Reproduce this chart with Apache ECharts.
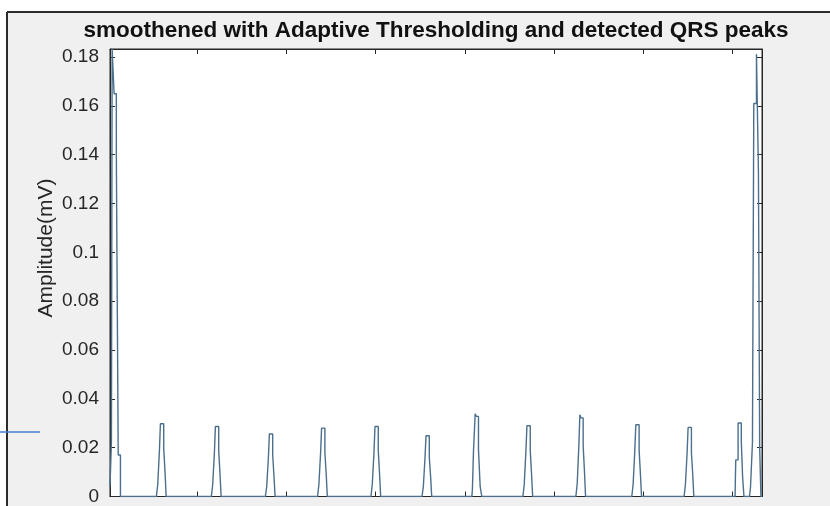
<!DOCTYPE html>
<html>
<head>
<meta charset="utf-8">
<script src="https://cdn.jsdelivr.net/npm/echarts@6/dist/echarts.min.js"></script>
<style>
html,body{margin:0;padding:0;background:#ffffff;}
#chart{width:830px;height:506px;}
</style>
</head>
<body>
<div id="chart"></div>
<script>
// ---- data (sample index, amplitude in mV) ----
var titleText = 'smoothened with Adaptive Thresholding and detected QRS peaks';
var yAxisTitle = 'Amplitude(mV)';
var xRange = [24, 7330];
var yRange = [0, 0.1833];
var xTickValues = [1000, 2000, 3000, 4000, 5000, 6000, 7000];
var yTickStep = 0.02;

var peak01 = [[24,0.004],[40,0.004],[40,0.0226],[48,0.0226],[48,0.1833],[70,0.1833],[70,0.165],[95,0.165],[95,0.14],[116,0.14],[116,0.017],[141,0.017],[141,0]];
var peak02 = [[544,0],[559,0],[559,0.005],[578,0.005],[578,0.019],[589,0.019],[589,0.0298],[626,0.0298],[626,0.0196],[641,0.0196],[641,0.0098],[653,0.0098],[653,0]];
var peak03 = [[1160,0],[1175,0],[1175,0.005],[1194,0.005],[1194,0.018],[1205,0.018],[1205,0.0287],[1242,0.0287],[1242,0.019],[1257,0.019],[1257,0.009],[1269,0.009],[1269,0]];
var peak04 = [[1765,0],[1780,0],[1780,0.004],[1799,0.004],[1799,0.016],[1810,0.016],[1810,0.0256],[1847,0.0256],[1847,0.017],[1862,0.017],[1862,0.008],[1874,0.008],[1874,0]];
var peak05 = [[2350,0],[2365,0],[2365,0.005],[2384,0.005],[2384,0.018],[2395,0.018],[2395,0.028],[2432,0.028],[2432,0.018],[2447,0.018],[2447,0.009],[2459,0.009],[2459,0]];
var peak06 = [[2948,0],[2963,0],[2963,0.005],[2982,0.005],[2982,0.018],[2993,0.018],[2993,0.0287],[3030,0.0287],[3030,0.019],[3045,0.019],[3045,0.009],[3057,0.009],[3057,0]];
var peak07 = [[3520,0],[3535,0],[3535,0.004],[3554,0.004],[3554,0.016],[3565,0.016],[3565,0.0249],[3602,0.0249],[3602,0.016],[3617,0.016],[3617,0.008],[3629,0.008],[3629,0]];
var peak08 = [[4079,0],[4085,0],[4085,0.003],[4097,0.003],[4097,0.0185],[4116,0.0185],[4116,0.0339],[4130,0.0339],[4130,0.0328],[4153,0.0328],[4153,0.0193],[4172,0.0193],[4172,0.004],[4190,0.004],[4190,0]];
var peak09 = [[4651,0],[4666,0],[4666,0.005],[4685,0.005],[4685,0.019],[4696,0.019],[4696,0.029],[4733,0.029],[4733,0.019],[4748,0.019],[4748,0.009],[4760,0.009],[4760,0]];
var peak10 = [[5244,0],[5259,0],[5259,0.005],[5278,0.005],[5278,0.021],[5289,0.021],[5289,0.0335],[5303,0.0335],[5303,0.0322],[5326,0.0322],[5326,0.021],[5341,0.021],[5341,0.01],[5353,0.01],[5353,0]];
var peak11 = [[5871,0],[5886,0],[5886,0.005],[5905,0.005],[5905,0.019],[5916,0.019],[5916,0.0294],[5953,0.0294],[5953,0.019],[5968,0.019],[5968,0.009],[5980,0.009],[5980,0]];
var peak12 = [[6457,0],[6472,0],[6472,0.005],[6491,0.005],[6491,0.018],[6502,0.018],[6502,0.0283],[6539,0.0283],[6539,0.018],[6554,0.018],[6554,0.009],[6566,0.009],[6566,0]];
var peak13 = [[7028,0],[7036,0],[7036,0.015],[7062,0.015],[7062,0.0301],[7098,0.0301],[7098,0.0226],[7113,0.0226],[7113,0.0078],[7128,0.0078],[7128,0]];
var peak14 = [[7190,0],[7201,0],[7201,0.0037],[7223,0.0037],[7223,0.022],[7238,0.022],[7238,0.161],[7268,0.161],[7268,0.1812],[7290,0.1812],[7290,0.133],[7304,0.133],[7304,0.02],[7318,0.02],[7318,0],[7330,0]];

var peaks = [peak01, peak02, peak03, peak04, peak05, peak06, peak07,
             peak08, peak09, peak10, peak11, peak12, peak13, peak14];
var signal = [];
peaks.forEach(function (p) { signal = signal.concat(p); });

// ---- chart ----
var chart = echarts.init(document.getElementById('chart'), null, {renderer: 'canvas'});
var axisColor = '#262626';
var lineColor = '#4b6f8d';
var labelFont = {fontFamily: 'Liberation Sans, Arial, sans-serif', fontSize: 19, color: '#262626'};

var option = {
  animation: false,
  backgroundColor: '#ffffff',
  grid: {
    left: 110, right: 68, top: 49, bottom: 9,
    show: true, backgroundColor: '#ffffff', borderColor: axisColor, borderWidth: 1
  },
  graphic: [
    {type: 'rect', z: -10, silent: true, shape: {x: 8, y: 13, width: 830, height: 500}, style: {fill: '#f0f0f0'}},
    {type: 'line', z: -5, silent: true, shape: {x1: 7, y1: 12, x2: 830, y2: 12}, style: {stroke: '#2b2b2b', lineWidth: 2}},
    {type: 'line', z: -5, silent: true, shape: {x1: 7, y1: 12, x2: 7, y2: 506}, style: {stroke: '#2b2b2b', lineWidth: 2}},
    {type: 'line', z: -5, silent: true, shape: {x1: 0, y1: 432, x2: 40, y2: 432}, style: {stroke: '#3f7fd0', lineWidth: 1.5}},
    {type: 'text', silent: true, x: 436, y: 31, style: {
      text: titleText, x: 0, y: 0, align: 'center', verticalAlign: 'middle',
      font: 'bold 22.5px "Liberation Sans", Arial, sans-serif', fill: '#111111'}},
    {type: 'text', silent: true, rotation: Math.PI / 2, x: 46, y: 248, style: {
      text: yAxisTitle, x: 0, y: 0, align: 'center', verticalAlign: 'middle',
      font: '21px "Liberation Sans", Arial, sans-serif', fill: '#262626'}}
  ],
  xAxis: [
    {
      type: 'value', min: xRange[0], max: xRange[1], position: 'bottom',
      axisLine: {show: true, onZero: false, lineStyle: {color: axisColor, width: 1}},
      axisTick: {show: true, inside: true, length: 5, customValues: xTickValues, lineStyle: {color: axisColor}},
      axisLabel: {show: false},
      splitLine: {show: false}
    },
    {
      type: 'value', min: xRange[0], max: xRange[1], position: 'top',
      axisLine: {show: true, onZero: false, lineStyle: {color: axisColor, width: 1}},
      axisTick: {show: true, inside: true, length: 5, customValues: xTickValues, lineStyle: {color: axisColor}},
      axisLabel: {show: false},
      splitLine: {show: false}
    }
  ],
  yAxis: [
    {
      type: 'value', min: yRange[0], max: yRange[1], interval: yTickStep, position: 'left',
      axisLine: {show: true, lineStyle: {color: axisColor, width: 1}},
      axisTick: {show: true, inside: true, length: 5, lineStyle: {color: axisColor}},
      axisLabel: Object.assign({show: true, margin: 11, showMaxLabel: false}, labelFont),
      splitLine: {show: false}
    },
    {
      type: 'value', min: yRange[0], max: yRange[1], interval: yTickStep, position: 'right',
      axisLine: {show: true, lineStyle: {color: axisColor, width: 1}},
      axisTick: {show: true, inside: true, length: 5, lineStyle: {color: axisColor}},
      axisLabel: {show: false},
      splitLine: {show: false}
    }
  ],
  series: [{
    type: 'line',
    xAxisIndex: 0, yAxisIndex: 0,
    data: signal,
    showSymbol: false,
    symbol: 'none',
    clip: true,
    lineStyle: {color: lineColor, width: 1.4},
    z: 3
  }]
};
chart.setOption(option);
</script>
</body>
</html>
